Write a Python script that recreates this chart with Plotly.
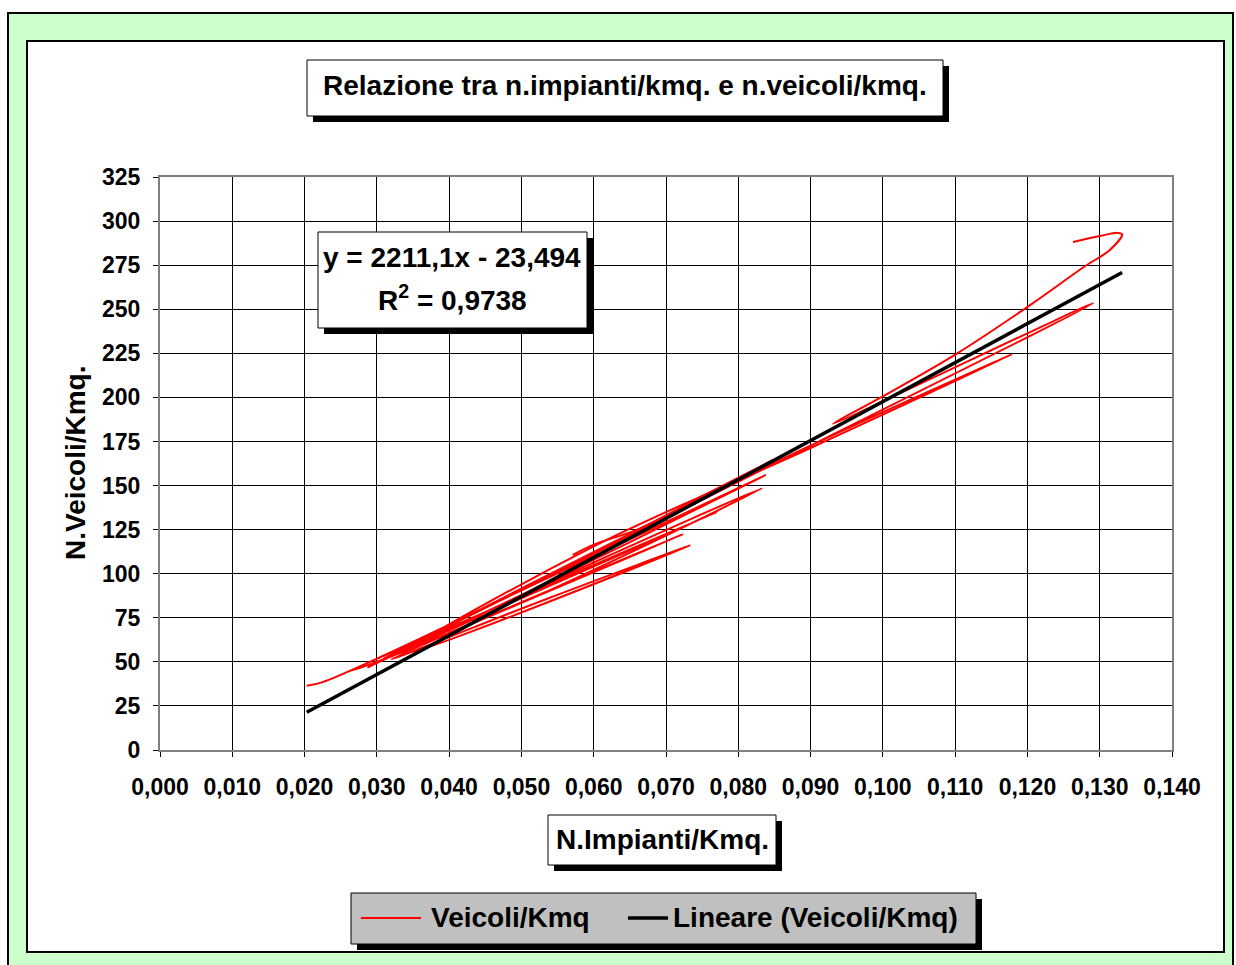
import plotly.graph_objects as go

# ---- data -------------------------------------------------------------
# N. impianti / kmq  vs  N. veicoli / kmq  (None marks a break in the series)
impianti_kmq = [
    0.0203, 0.0225, 0.0500, 0.0838, 0.0500, 0.0288, 0.0560, 0.0833, 0.0500,
    0.0266, 0.0771, 0.0300, 0.0724, 0.0320, 0.0540, 0.0733, 0.0340, 0.0600,
    0.0900, 0.1179, 0.0850, 0.0310, 0.0848, 0.1291, 0.0931, 0.0996, 0.1103,
    0.1200, 0.1280, 0.1314, 0.1331, 0.1325, 0.1300, 0.1263,
    None,
    0.0571, 0.0600, 0.0660, 0.0750, 0.0848,
]
veicoli_kmq = [
    36.5, 38.5, 90.5, 156.0, 88.0, 47.0, 99.0, 148.5, 83.5,
    45.0, 135.0, 49.5, 122.5, 51.5, 86.5, 116.0, 55.0, 115.5,
    171.3, 224.5, 163.0, 52.0, 162.0, 253.5, 185.0, 199.7, 225.0,
    251.3, 274.5, 283.6, 292.5, 293.3, 291.5, 288.1,
    None,
    110.6, 116.5, 125.0, 144.0, 164.5,
]

# linear trend (Excel "Lineare")
slope = 2211.1
intercept = -23.494
r_squared = 0.9738

series_name = "Veicoli/Kmq"
trend_name = "Lineare (Veicoli/Kmq)"
chart_title = "Relazione tra n.impianti/kmq. e n.veicoli/kmq."
x_title = "N.Impianti/Kmq."
y_title = "N.Veicoli/Kmq."

x_ticks = [round(i * 0.01, 2) for i in range(15)]
y_ticks = list(range(0, 326, 25))

# ---- geometry ---------------------------------------------------------
W, H = 1236, 965
ML, MR, MT, MB = 160, 64, 177, 215
PW, PH = W - ML - MR, H - MT - MB


def px(x):
    return (x - ML) / PW


def py(y):
    return (H - MB - y) / PH


FONT = "Liberation Sans, Arial, sans-serif"
LABEL_SIZE = 28
TICK_SIZE = 23

xs = [v for v in impianti_kmq if v is not None]
trend_x = [min(xs), max(xs)]
trend_y = [slope * x + intercept for x in trend_x]

fig = go.Figure()
fig.add_trace(go.Scatter(
    x=impianti_kmq, y=veicoli_kmq, mode="lines", name=series_name,
    line=dict(color="#FF0000", width=2, shape="spline", smoothing=1.0),
    connectgaps=False, showlegend=False,
))
fig.add_trace(go.Scatter(
    x=trend_x, y=trend_y, mode="lines", name=trend_name,
    line=dict(color="#000000", width=3.5), showlegend=False,
))


def rect(x0, y0, x1, y1, fill, line_color=None, lw=0, layer="above"):
    return dict(
        type="rect", xref="paper", yref="paper",
        x0=px(x0), x1=px(x1), y0=py(y1), y1=py(y0),
        fillcolor=fill, layer=layer,
        line=dict(color=line_color or fill, width=lw),
    )


def boxed(x0, y0, x1, y1, fill="#FFFFFF", off=6):
    return [
        rect(x0 + off, y0 + off, x1 + off, y1 + off, "#000000"),
        rect(x0, y0, x1, y1, fill, "#000000", 1),
    ]


shapes = [
    rect(8, 13, 1233, 990, "#CCFFCC", "#000000", 2, layer="below"),
    rect(27, 41, 1224, 952, "#FFFFFF", "#000000", 2, layer="below"),
]
shapes += boxed(307, 60, 943, 116)
shapes += boxed(318, 232, 587, 328)
shapes += boxed(548, 815, 776, 865)
shapes += boxed(351, 893, 976, 944, fill="#C0C0C0")
shapes += [
    dict(type="line", xref="paper", yref="paper", x0=px(361), x1=px(421),
         y0=py(918), y1=py(918), line=dict(color="#FF0000", width=2)),
    dict(type="line", xref="paper", yref="paper", x0=px(628), x1=px(668),
         y0=py(918), y1=py(918), line=dict(color="#000000", width=3.5)),
]


def text(x, y, s, size=LABEL_SIZE, xanchor="center", angle=0):
    return dict(
        xref="paper", yref="paper", x=px(x), y=py(y), text=s,
        showarrow=False, xanchor=xanchor, yanchor="middle", textangle=angle,
        font=dict(family=FONT, size=size, color="#000000", weight="bold"),
    )


eq_text = f"y = {slope:.1f}x - {abs(intercept):.3f}".replace(".", ",")
r2_text = f"R<sup>2</sup> = {r_squared:.4f}".replace(".", ",")

annotations = [
    text(625, 86, chart_title),
    text(452, 257, eq_text),
    text(452, 298, r2_text),
    text(662, 839, x_title),
    text(75, 463, y_title, angle=-90),
    text(429, 918, series_name, xanchor="left"),
    text(671, 918, trend_name, xanchor="left"),
]

axis_common = dict(
    showgrid=True, gridcolor="#000000", gridwidth=1,
    showline=True, linecolor="#808080", linewidth=2, mirror=True,
    ticks="outside", ticklen=5, tickcolor="#000000", tickwidth=1,
    zeroline=False,
    tickfont=dict(family=FONT, size=TICK_SIZE, color="#000000", weight="bold"),
)

fig.update_layout(
    width=W, height=H, autosize=False,
    margin=dict(l=ML, r=MR, t=MT, b=MB, pad=0),
    paper_bgcolor="#FFFFFF", plot_bgcolor="#C0C0C0",
    separators=",.",
    shapes=shapes, annotations=annotations,
    xaxis=dict(range=[0, 0.14], tickvals=x_ticks, tickformat=".3f",
               ticklabelstandoff=10, **axis_common),
    yaxis=dict(range=[0, 325], tickvals=y_ticks, ticklabelstandoff=8,
               **axis_common),
    showlegend=False,
)

fig.write_html("out.html")
